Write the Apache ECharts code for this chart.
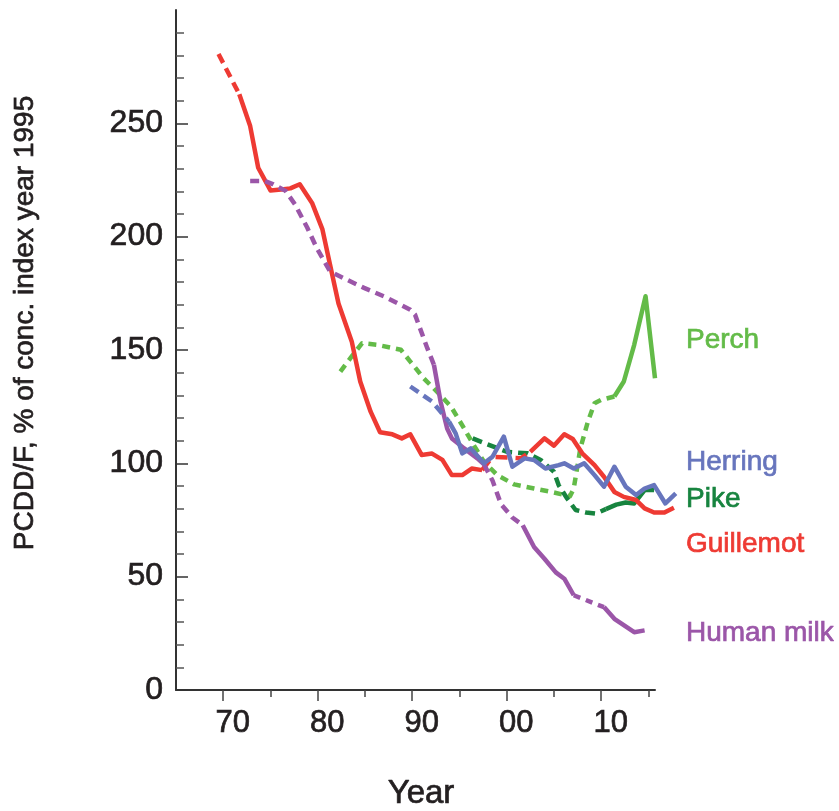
<!DOCTYPE html>
<html>
<head>
<meta charset="utf-8">
<script src="https://cdn.jsdelivr.net/npm/echarts@6/dist/echarts.min.js"></script>
<style>
html,body{margin:0;padding:0;background:#ffffff;}
#chart{width:839px;height:811px;}
</style>
</head>
<body>
<div id="chart"></div>
<script>
// ---------------- data ----------------
const decadeTicks = [1970, 1980, 1990, 2000, 2010];
const decadeLabels = ['70', '80', '90', '00', '10'];
const halfDecadeTicks = [1975, 1985, 1995, 2005, 2015];
const yLabelValues = [0, 50, 100, 150, 200, 250];

const guillemotYears = [1969.5, 1971.7, 1972.85, 1973.7, 1975.0, 1976.4, 1977.1, 1978.1, 1979.4, 1980.5, 1981.3, 1982.2, 1983.6, 1984.5, 1985.6, 1986.6, 1987.9, 1988.9, 1989.8, 1991.0, 1992.1, 1993.2, 1994.2, 1995.3, 1996.3, 1997.4, 1998.5, 2001.5, 2002.5, 2004.0, 2005.0, 2006.1, 2007.0, 2008.0, 2009.3, 2010.3, 2011.4, 2012.4, 2013.7, 2014.6, 2015.6, 2016.7, 2017.7];
const guillemotValues = [280.6, 262.8, 248.8, 230.4, 220.4, 220.9, 221.3, 223.1, 214.9, 203.2, 187.7, 170.5, 153.8, 136.1, 122.8, 113.7, 112.8, 111.0, 112.8, 103.7, 104.3, 101.5, 94.8, 94.8, 97.7, 97.0, 102.9, 102.2, 105.1, 111.0, 107.8, 112.8, 110.7, 104.4, 99.2, 94.1, 87.4, 85.2, 83.8, 80.1, 78.3, 78.3, 80.4];

const milkYears = [1972.85, 1974.4, 1975.3, 1976.6, 1977.6, 1978.9, 1979.9, 1981.3, 1982.7, 1984.9, 1987.0, 1989.8, 1990.3, 1991.6, 1992.3, 1993.0, 1993.7, 1994.2, 1995.5, 1996.9, 1997.6, 1998.5, 1999.4, 2000.6, 2001.7, 2002.9, 2004.0, 2005.2, 2006.1, 2007.1, 2008.2, 2009.4, 2010.3, 2011.4, 2013.5, 2014.6];
const milkValues = [224.6, 224.6, 223.1, 220.2, 214.2, 203.9, 195.0, 184.7, 181.8, 177.4, 173.7, 167.8, 165.6, 150.8, 143.5, 127.3, 115.4, 111.0, 106.6, 102.2, 99.5, 92.4, 82.0, 76.1, 72.7, 63.1, 57.9, 51.9, 49.1, 41.8, 40.0, 38.0, 36.6, 31.4, 25.5, 26.3];

const herringYears = [1989.8, 1992.1, 1993.0, 1993.9, 1994.6, 1995.3, 1996.2, 1997.6, 1998.5, 1999.7, 2000.6, 2001.9, 2002.9, 2004.1, 2005.5, 2006.1, 2007.1, 2008.2, 2009.3, 2010.3, 2011.4, 2012.6, 2013.7, 2014.6, 2015.6, 2016.8, 2017.9];
const herringValues = [133.9, 127.3, 122.8, 118.4, 113.2, 104.4, 106.6, 100.0, 102.9, 111.8, 98.5, 102.2, 101.5, 97.7, 99.2, 100.0, 97.7, 100.0, 94.8, 89.7, 98.5, 89.7, 86.0, 88.9, 90.4, 82.3, 86.7];

const perchYears = [1982.4, 1983.6, 1984.7, 1986.3, 1988.8, 1989.8, 1991.2, 1992.6, 1994.1, 1995.5, 1996.5, 1997.6, 1999.0, 2000.8, 2002.9, 2004.7, 2006.7, 2007.1, 2007.8, 2008.6, 2009.3, 2010.0, 2011.4, 2012.4, 2013.5, 2014.7, 2015.7];
const perchValues = [140.5, 147.2, 153.0, 152.3, 150.1, 144.9, 137.6, 131.7, 125.1, 115.4, 108.1, 100.7, 94.8, 90.7, 88.9, 87.4, 85.5, 88.9, 106.6, 118.4, 126.5, 128.0, 129.5, 136.1, 152.3, 173.7, 137.5];

const pikeYears = [1996.4, 1997.9, 2000.0, 2002.2, 2003.6, 2005.0, 2005.5, 2006.4, 2007.3, 2008.4, 2009.4, 2010.5, 2011.6, 2012.6, 2013.5, 2014.6, 2015.6];
const pikeValues = [111.0, 108.5, 105.1, 104.4, 101.5, 96.3, 90.4, 84.5, 79.4, 78.3, 77.8, 79.8, 81.8, 82.7, 82.3, 88.2, 88.2];

// ---------------- style ----------------
const FONT = "'Liberation Sans', Arial, Helvetica, sans-serif";
const TEXT = '#231f20';
const C_RED = '#ee3a33';
const C_PURPLE = '#9b56a8';
const C_BLUE = '#6775bd';
const C_LGREEN = '#63bb48';
const C_DGREEN = '#17843f';
const LW = 4.5;
const EMB = 0.7; // slight emboldening of text

// both grids share the same px-per-year scale; the data grid is wider so the
// series extend past the end of the drawn axis line, as in the reference
const X_MIN = 1965;
const AXIS_END_YEAR = 2015.7;
const DATA_END_YEAR = 2017.923;

function segment(years, values, from, to) {
  const out = [];
  for (let i = 0; i < years.length; i++) {
    if (years[i] >= from - 1e-9 && years[i] <= to + 1e-9) out.push([years[i], values[i]]);
  }
  return out;
}
function lineSeries(name, data, color, dash, z) {
  return {
    type: 'line', name: name, data: data,
    xAxisIndex: 0, yAxisIndex: 0,
    symbol: 'none', showSymbol: false, clip: false, silent: true,
    animation: false, z: z,
    lineStyle: { color: color, width: LW, type: dash || 'solid', cap: 'butt', join: 'round' }
  };
}

const series = [
  lineSeries('Perch', segment(perchYears, perchValues, 1982.4, 2011.4), C_LGREEN, [8, 6], 2),
  lineSeries('Perch', segment(perchYears, perchValues, 2011.4, 2015.7), C_LGREEN, 'solid', 2),
  lineSeries('Pike', segment(pikeYears, pikeValues, 1996.4, 2010.5), C_DGREEN, [10, 6], 3),
  lineSeries('Pike', segment(pikeYears, pikeValues, 2010.5, 2015.6), C_DGREEN, 'solid', 3),
  lineSeries('Guillemot', segment(guillemotYears, guillemotValues, 1969.5, 1971.7), C_RED, [10, 6], 4),
  lineSeries('Guillemot', segment(guillemotYears, guillemotValues, 1971.7, 1997.4), C_RED, 'solid', 4),
  lineSeries('Guillemot', segment(guillemotYears, guillemotValues, 1997.4, 2002.5), C_RED, [12, 8], 4),
  lineSeries('Guillemot', segment(guillemotYears, guillemotValues, 2002.5, 2017.7), C_RED, 'solid', 4),
  lineSeries('Human milk', segment(milkYears, milkValues, 1972.85, 1992.3), C_PURPLE, [9, 6], 5),
  lineSeries('Human milk', segment(milkYears, milkValues, 1992.3, 1997.6), C_PURPLE, 'solid', 5),
  lineSeries('Human milk', segment(milkYears, milkValues, 1997.6, 2001.7), C_PURPLE, [9, 6], 5),
  lineSeries('Human milk', segment(milkYears, milkValues, 2001.7, 2007.1), C_PURPLE, 'solid', 5),
  lineSeries('Human milk', segment(milkYears, milkValues, 2007.1, 2010.3), C_PURPLE, [7, 6], 5),
  lineSeries('Human milk', segment(milkYears, milkValues, 2010.3, 2014.6), C_PURPLE, 'solid', 5),
  lineSeries('Herring', segment(herringYears, herringValues, 1989.8, 1993.9), C_BLUE, [10, 6], 6),
  lineSeries('Herring', segment(herringYears, herringValues, 1993.9, 2017.9), C_BLUE, 'solid', 6)
];

function label(text, color, x, y) {
  return {
    type: 'text', x: x, y: y, silent: true,
    style: { text: text, fill: color, font: '28px ' + FONT, align: 'left', verticalAlign: 'middle',
             stroke: color, lineWidth: EMB }
  };
}

const option = {
  animation: false,
  backgroundColor: '#ffffff',
  grid: [
    { left: 176, right: 163, top: 10, bottom: 121, containLabel: false },
    { left: 176, right: 184, top: 10, bottom: 121, containLabel: false }
  ],
  xAxis: [
    {
      type: 'value', gridIndex: 0, min: X_MIN, max: DATA_END_YEAR,
      splitLine: { show: false },
      axisLine: { show: false, onZero: false },
      axisTick: { show: true, customValues: decadeTicks, length: 11, lineStyle: { color: '#444444', width: 1.5 } },
      axisLabel: {
        show: true, customValues: decadeTicks,
        formatter: function (v) { const i = decadeTicks.indexOf(v); return i >= 0 ? decadeLabels[i] : ''; },
        fontFamily: FONT, fontSize: 31, color: TEXT, margin: 18, padding: [0, 0, 0, 19],
        textBorderColor: TEXT, textBorderWidth: EMB
      }
    },
    {
      type: 'value', gridIndex: 1, min: X_MIN, max: AXIS_END_YEAR,
      splitLine: { show: false },
      axisLine: { show: true, onZero: false, lineStyle: { color: '#333333', width: 2 } },
      axisTick: { show: true, customValues: halfDecadeTicks, length: 7, lineStyle: { color: '#444444', width: 1.5 } },
      axisLabel: { show: false }
    }
  ],
  yAxis: [
    {
      type: 'value', gridIndex: 0, min: 0, max: 300, interval: 50,
      splitLine: { show: false },
      axisLine: { show: true, onZero: false, lineStyle: { color: '#333333', width: 2 } },
      axisTick: { show: true, inside: true, customValues: yLabelValues, length: 12, lineStyle: { color: '#333333', width: 1.5 } },
      minorTick: { show: true, splitNumber: 5, length: 8, lineStyle: { color: '#555555', width: 1.5 } },
      axisLabel: { show: true, customValues: yLabelValues, fontFamily: FONT, fontSize: 32, color: TEXT, margin: 13,
                   textBorderColor: TEXT, textBorderWidth: EMB }
    },
    {
      type: 'value', gridIndex: 1, min: 0, max: 300, show: false
    }
  ],
  series: series,
  graphic: [
    {
      type: 'text', x: 25, y: 323, rotation: Math.PI / 2, silent: true,
      style: { text: 'PCDD/F, % of conc. index year 1995', fill: TEXT, font: '28px ' + FONT, align: 'center', verticalAlign: 'middle',
               stroke: TEXT, lineWidth: EMB }
    },
    {
      type: 'text', x: 421, y: 794, silent: true,
      style: { text: 'Year', fill: TEXT, font: '33px ' + FONT, align: 'center', verticalAlign: 'middle',
               stroke: TEXT, lineWidth: EMB }
    },
    label('Perch', C_LGREEN, 686, 340),
    label('Herring', C_BLUE, 686, 462),
    label('Pike', C_DGREEN, 686, 499),
    label('Guillemot', C_RED, 686, 544),
    label('Human milk', C_PURPLE, 686, 633)
  ]
};

const chart = echarts.init(document.getElementById('chart'), null, { renderer: 'canvas' });
chart.setOption(option);
</script>
</body>
</html>
